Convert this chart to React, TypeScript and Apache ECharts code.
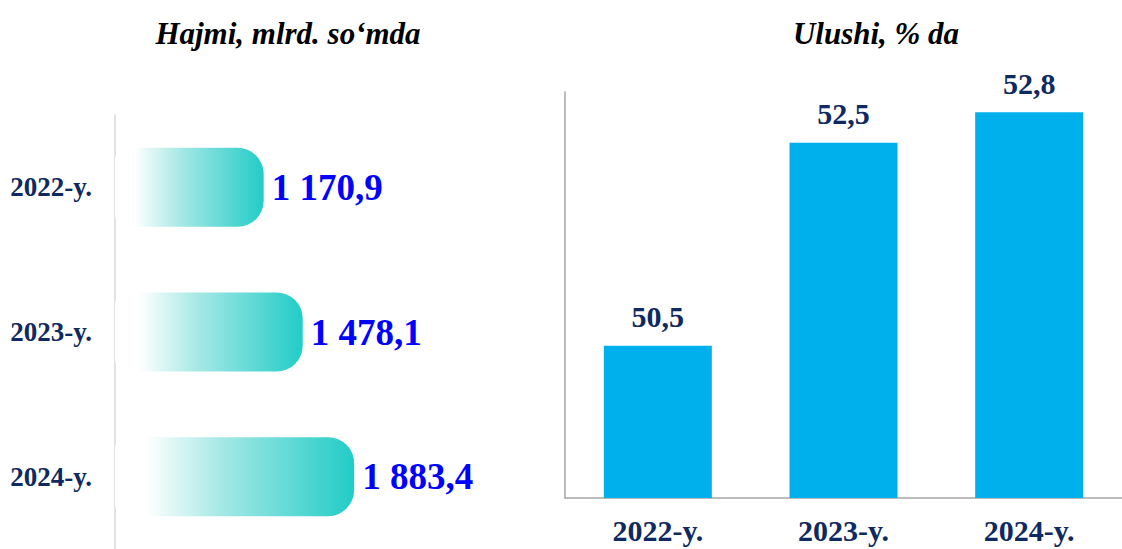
import React, { useEffect, useRef } from "react";
import * as echarts from "echarts";

const years = ["2022-y.", "2023-y.", "2024-y."];
const volumes = [1170.9, 1478.1, 1883.4];
const shares = [50.5, 52.5, 52.8];
const titleLeft = "Hajmi, mlrd. so‘mda";
const titleRight = "Ulushi, % da";

const FONT = "'Liberation Serif', 'Times New Roman', serif";
const NAVY = "#0f2a60";

function fmt(v: number): string {
  const [int, dec] = v.toFixed(1).split(".");
  const withSpaces = int.replace(/\B(?=(\d{3})+(?!\d))/g, " ");
  return withSpaces + "," + dec;
}

export default function App() {
  const ref = useRef<HTMLDivElement>(null);
  useEffect(() => {
    if (!ref.current) return;
    const chart = echarts.init(ref.current, undefined, { renderer: "svg" });
    chart.setOption({
      animation: false,
      backgroundColor: "#ffffff",
      title: [
        {
          text: titleLeft,
          left: 283,
          top: 13,
          textAlign: "center",
          textStyle: { fontFamily: FONT, fontSize: 31, fontWeight: "bold", fontStyle: "italic", color: "#000" },
        },
        {
          text: titleRight,
          left: 871,
          top: 13,
          textAlign: "center",
          textStyle: { fontFamily: FONT, fontSize: 31, fontWeight: "bold", fontStyle: "italic", color: "#000" },
        },
      ],
      grid: [
        { left: 115, top: 115, width: 400, bottom: -2, containLabel: false },
        { left: 565, top: 92, right: -8, bottom: 51, containLabel: false },
      ],
      xAxis: [
        {
          gridIndex: 0,
          type: "value",
          min: 0,
          max: 3150,
          show: false,
          splitLine: { show: false },
        },
        {
          gridIndex: 1,
          type: "category",
          data: years,
          axisLine: { show: true, lineStyle: { color: "#a6a6a6", width: 1.5 } },
          axisTick: { show: false },
          axisLabel: { margin: 17, fontFamily: FONT, fontSize: 30, fontWeight: "bold", color: NAVY },
        },
      ],
      yAxis: [
        {
          gridIndex: 0,
          type: "category",
          data: years,
          inverse: true,
          axisLine: { show: true, lineStyle: { color: "#d9d9d9", width: 1.5 } },
          axisTick: { show: false },
          axisLabel: { margin: 23, fontFamily: FONT, fontSize: 27, fontWeight: "bold", color: NAVY },
        },
        {
          gridIndex: 1,
          type: "value",
          min: 49,
          max: 53,
          axisLine: { show: true, lineStyle: { color: "#a6a6a6", width: 1.5 } },
          axisTick: { show: false },
          axisLabel: { show: false },
          splitLine: { show: false },
        },
      ],
      series: [
        {
          type: "bar",
          xAxisIndex: 0,
          yAxisIndex: 0,
          data: volumes,
          barWidth: 79,
          itemStyle: {
            borderRadius: [12, 26, 26, 12],
            color: new echarts.graphic.LinearGradient(0, 0, 1, 0, [
              { offset: 0, color: "#ffffff" },
              { offset: 0.13, color: "#ffffff" },
              { offset: 0.45, color: "#a3e8e5" },
              { offset: 1, color: "#22ccc7" },
            ]),
          },
          label: {
            show: true,
            position: "right",
            distance: 8,
            formatter: (p: any) => fmt(p.value),
            fontFamily: FONT,
            fontSize: 37,
            fontWeight: "bold",
            color: "#0000ff",
          },
        },
        {
          type: "bar",
          xAxisIndex: 1,
          yAxisIndex: 1,
          data: shares,
          barWidth: 108,
          itemStyle: { color: "#00b0ed" },
          label: {
            show: true,
            position: "top",
            distance: 14,
            formatter: (p: any) => String(p.value.toFixed(1)).replace(".", ","),
            fontFamily: FONT,
            fontSize: 30,
            fontWeight: "bold",
            color: NAVY,
          },
        },
      ],
    });
    return () => chart.dispose();
  }, []);
  return (
    <div
      ref={ref}
      style={{ position: "fixed", left: 0, top: 0, width: 1122, height: 549, background: "#fff" }}
    />
  );
}
